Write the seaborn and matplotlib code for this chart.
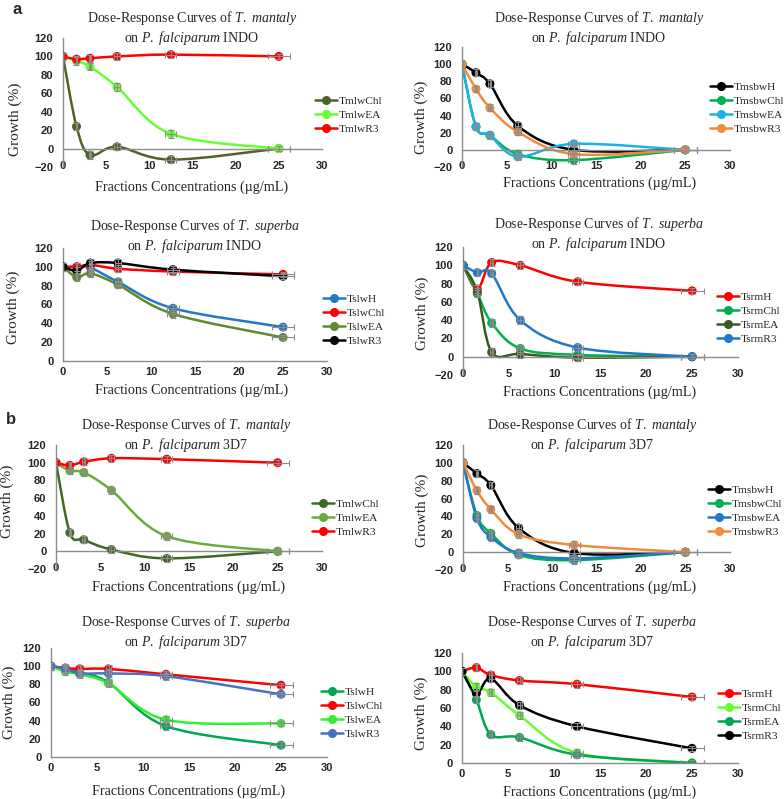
import matplotlib
matplotlib.use('Agg')
import numpy as np
import pandas as pd
import matplotlib.pyplot as plt
import seaborn as sns
from matplotlib.path import Path
from matplotlib.patches import PathPatch
from matplotlib.lines import Line2D

# concentrations (ug/mL) and their horizontal error
conc = [0, 1.5625, 3.125, 6.25, 12.5, 25]
conc_err = [0, 0.08, 0.16, 0.31, 0.63, 1.25]
growth_err = [4, 4, 4, 4, 4, 3]

# panel a: P. falciparum INDO
a1_growth = {'TmlwChl': [100, 24, -7, 2, -12, 0],
             'TmlwEA': [100, 95, 89, 67, 16, 0],
             'TmlwR3': [100, 97, 98, 100, 102, 100]}
a1_colors = ['#4f6228', '#66ff33', '#ff0000']

a2_growth = {'TmsbwH': [100, 90, 77, 28, 0, 0],
             'TmsbwChl': [100, 27, 17, -5, -12, 0],
             'TmsbwEA': [100, 27, 17, -8, 7, 0],
             'TmsbwR3': [100, 71, 49, 21, -5, 0]}
a2_colors = ['#000000', '#00b050', '#1ab2e8', '#f28a3c']

a3_growth = {'TslwH': [100, 100, 99, 84, 56, 36],
             'TslwChl': [100, 100, 102, 98, 95, 92],
             'TslwEA': [100, 89, 93, 81, 50, 25],
             'TslwR3': [100, 96, 104, 104, 97, 90]}
a3_colors = ['#1f78c8', '#ff0000', '#5f8a30', '#000000']

a4_growth = {'TsrmH': [100, 74, 103, 100, 82, 72],
             'TsrmChl': [100, 69, 37, 9, 2, 0],
             'TsrmEA': [100, 71, 5, 3, -1, 0],
             'TsrmR3': [100, 92, 91, 40, 10, 0]}
a4_colors = ['#ff0000', '#00b050', '#3a5a20', '#1f78c8']

# panel b: P. falciparum 3D7
b1_growth = {'TmlwChl': [100, 21, 13, 2, -8, 0],
             'TmlwEA': [100, 91, 89, 69, 17, 0],
             'TmlwR3': [100, 97, 101, 105, 104, 100]}
b1_colors = ['#3f6a22', '#6aaa3e', '#ff0000']

b2_growth = {'TmsbwH': [100, 88, 75, 27, -1, 0],
             'TmsbwChl': [100, 41, 21, -3, -9, 0],
             'TmsbwEA': [100, 38, 17, -1, -7, 0],
             'TmsbwR3': [100, 69, 48, 20, 8, 0]}
b2_colors = ['#000000', '#00b050', '#1f78c8', '#f28a3c']

b3_growth = {'TslwH': [100, 96, 93, 82, 34, 13],
             'TslwChl': [100, 98, 97, 97, 91, 79],
             'TslwEA': [100, 94, 91, 81, 41, 37],
             'TslwR3': [100, 97, 92, 92, 89, 69]}
b3_colors = ['#00a651', '#ff0000', '#33ee33', '#4472c4']

b4_growth = {'TsrmH': [100, 104, 96, 90, 86, 72],
             'TsrmChl': [100, 83, 77, 52, 11, 0],
             'TsrmEA': [100, 69, 31, 28, 9, 0],
             'TsrmR3': [100, 76, 92, 63, 40, 16]}
b4_colors = ['#ff0000', '#66ff33', '#00a651', '#000000']

sns.set_style('white')
plt.rcParams['font.family'] = ['Liberation Serif', 'DejaVu Serif']
plt.rcParams['mathtext.fontset'] = 'custom'
plt.rcParams['mathtext.rm'] = 'Liberation Serif'
plt.rcParams['mathtext.it'] = 'Liberation Serif:italic'

W, H = 784, 799
fig = plt.figure(figsize=(W / 100, H / 100), dpi=100)
fig.patch.set_facecolor('white')


def smooth_path(x, y):
    # Excel-like smoothed line as cubic bezier segments
    n = len(x)
    verts = [(x[0], y[0])]
    codes = [Path.MOVETO]
    for i in range(n - 1):
        xp, yp = (x[i - 1], y[i - 1]) if i > 0 else (x[i], y[i])
        xn, yn = (x[i + 2], y[i + 2]) if i + 2 < n else (x[i + 1], y[i + 1])
        c1 = (x[i] + (x[i + 1] - xp) / 6, y[i] + (y[i + 1] - yp) / 6)
        c2 = (x[i + 1] - (xn - x[i]) / 6, y[i + 1] - (yn - y[i]) / 6)
        verts += [c1, c2, (x[i + 1], y[i + 1])]
        codes += [Path.CURVE4] * 3
    return Path(verts, codes)


def px(x, y):
    return x / W, 1 - y / H


panels = [
    dict(data=a1_growth, colors=a1_colors, sp='T.\\ mantaly', st='INDO', ylim=(-20, 120),
         rect=(63, 38, 322, 167), title=(192, 28), xl=(192, 187), yl=(15, 119), leg=(315, 115)),
    dict(data=a2_growth, colors=a2_colors, sp='T.\\ mantaly', st='INDO', ylim=(-20, 120),
         rect=(462, 47, 730, 167), title=(599, 28), xl=(600, 183), yl=(421, 117), leg=(710, 108)),
    dict(data=a3_growth, colors=a3_colors, sp='T.\\ superba', st='INDO', ylim=(0, 120),
         rect=(63, 248, 327, 361), title=(195, 236), xl=(192, 390), yl=(13, 307), leg=(323, 320)),
    dict(data=a4_growth, colors=a4_colors, sp='T.\\ superba', st='INDO', ylim=(-20, 120),
         rect=(463, 247, 738, 375), title=(599, 234), xl=(600, 392), yl=(422, 313), leg=(717, 318)),
    dict(data=b1_growth, colors=b1_colors, sp='T.\\ mantaly', st='3D7', ylim=(-20, 120),
         rect=(56, 445, 322, 569), title=(186, 435), xl=(189, 587), yl=(7, 501), leg=(312, 518)),
    dict(data=b2_growth, colors=b2_colors, sp='T.\\ mantaly', st='3D7', ylim=(-20, 120),
         rect=(463, 445, 730, 570), title=(592, 435), xl=(600, 587), yl=(422, 510), leg=(708, 511)),
    dict(data=b3_growth, colors=b3_colors, sp='T.\\ superba', st='3D7', ylim=(0, 120),
         rect=(51, 648, 327, 757), title=(186, 632), xl=(189, 791), yl=(9, 702), leg=(321, 713)),
    dict(data=b4_growth, colors=b4_colors, sp='T.\\ superba', st='3D7', ylim=(0, 120),
         rect=(462, 653, 738, 763), title=(592, 632), xl=(600, 792), yl=(421, 713), leg=(718, 715)),
]

for p in panels:
    l, t, r, b = p['rect']
    ax = fig.add_axes([l / W, 1 - b / H, (r - l) / W, (b - t) / H])
    names = list(p['data'].keys())
    palette = dict(zip(names, p['colors']))
    df = pd.DataFrame([(n, c, g) for n in names for c, g in zip(conc, p['data'][n])],
                      columns=['fraction', 'conc', 'growth'])

    for n in names:
        ax.add_patch(PathPatch(smooth_path(conc, p['data'][n]), fill=False,
                               edgecolor=palette[n], lw=1.8, zorder=2))
    sns.scatterplot(data=df, x='conc', y='growth', hue='fraction', palette=palette,
                    s=42, edgecolor='none', legend=False, ax=ax, zorder=3)
    for n in names:
        ax.errorbar(conc, p['data'][n], yerr=growth_err, xerr=conc_err, fmt='none',
                    ecolor='#8c8c8c', elinewidth=0.8, capsize=2.2, capthick=0.8, zorder=4)

    ymin, ymax = p['ylim']
    ax.set_xlim(0, 30)
    ax.set_ylim(ymin, ymax)
    ax.set_xticks(range(0, 31, 5))
    ax.set_yticks(range(ymin, ymax + 1, 20))
    ax.set_xlabel('')
    ax.set_ylabel('')
    for s in ['top', 'right']:
        ax.spines[s].set_visible(False)
    for s in ['left', 'bottom']:
        ax.spines[s].set_color('#8c8c8c')
        ax.spines[s].set_linewidth(1)
    pad = 3
    if ymin < 0:
        # x axis line crosses at zero, labels stay on the bottom row
        ax.spines['bottom'].set_position(('data', 0))
        pad = (b - t) * (-ymin) / (ymax - ymin) * 0.72 - 5.5
    ax.tick_params(axis='x', length=3, direction='inout', color='#8c8c8c', pad=pad)
    ax.tick_params(axis='y', length=3, direction='out', color='#8c8c8c', pad=4)
    for lab in ax.get_xticklabels() + ax.get_yticklabels():
        lab.set_fontfamily('Liberation Sans')
        lab.set_fontweight('bold')
        lab.set_fontsize(8)

    title = ('Dose-Response Curves of $\\mathit{' + p['sp'] + '}$\n'
             'on $\\mathit{P.\\ falciparum}$ ' + p['st'])
    fig.text(*px(*p['title']), title, ha='center', va='center', fontsize=10,
             multialignment='center', linespacing=1.15)
    fig.text(*px(*p['xl']), 'Fractions Concentrations (\u00b5g/mL)', ha='center',
             va='center', fontsize=10.2)
    fig.text(*px(*p['yl']), 'Growth (%)', ha='center', va='center', rotation=90,
             fontsize=11)

    handles = [Line2D([], [], color=palette[n], marker='o', markersize=5.5, lw=1.8)
               for n in names]
    ax.legend(handles, names, loc='center left', bbox_to_anchor=px(*p['leg']),
              bbox_transform=fig.transFigure, frameon=False, fontsize=8.2,
              handlelength=1.9, handletextpad=0.2, labelspacing=0.35,
              borderpad=0, borderaxespad=0)

fig.text(*px(17, 10), 'a', fontfamily='Liberation Sans', fontweight='bold',
         fontsize=12, ha='center', va='center')
fig.text(*px(11, 420), 'b', fontfamily='Liberation Sans', fontweight='bold',
         fontsize=12, ha='center', va='center')

fig.savefig('out.png', dpi=100, facecolor='white')
